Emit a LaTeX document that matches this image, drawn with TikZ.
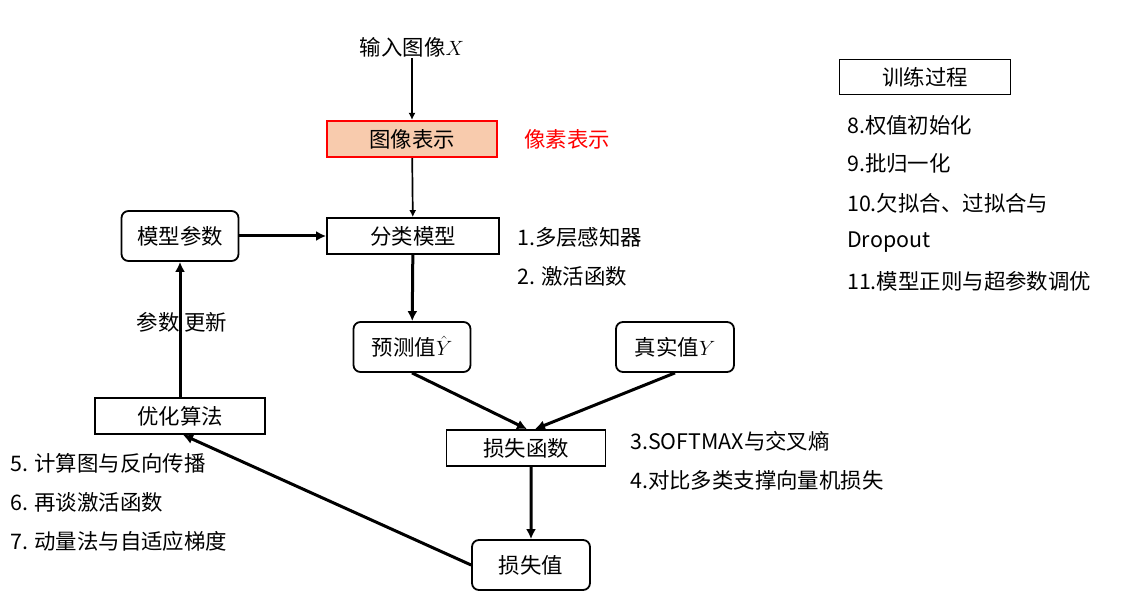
\documentclass[tikz,border=0pt]{standalone}
\usepackage{fontspec}
\setmainfont{Noto Sans CJK SC}
\usepackage{xcolor}
\definecolor{peach}{HTML}{F8CBAD}
\definecolor{hotred}{HTML}{FF0000}
\usetikzlibrary{arrows.meta}

\begin{document}
\begin{tikzpicture}[x=1bp,y=-1bp,>=Latex,every node/.style={font=\fontsize{21.5}{25}\selectfont}]
\tikzset{
  sqbox/.style={draw,line width=1.8bp,rectangle,inner sep=0pt},
  rdbox/.style={draw,line width=1.8bp,rectangle,rounded corners=7bp,inner sep=0pt},
  thin arrow/.style={->,line width=1.7bp,>={Latex[length=7bp,width=7bp]}},
  thick arrow/.style={->,line width=3bp,>={Latex[length=10bp,width=10bp]}},
  note/.style={anchor=west,inner sep=0pt}
}
\useasboundingbox (0,0) rectangle (1137,593);
% main chain
\node[inner sep=1pt] (input) at (412,47) {输入图像$X$};
\node[sqbox,draw=hotred,line width=2.2bp,fill=peach,minimum width=170bp,minimum height=36bp] (repr) at (412,139) {图像表示};
\node[text=hotred,inner sep=0pt] (pixel) at (567,139) {像素表示};
\node[sqbox,minimum width=172bp,minimum height=36bp] (cls) at (413,236) {分类模型};
\node[rdbox,minimum width=117bp,minimum height=50bp] (param) at (180,236) {模型参数};
\node[rdbox,minimum width=117bp,minimum height=50bp] (pred) at (412,347) {预测值$\hat{Y}$};
\node[rdbox,minimum width=118bp,minimum height=50bp] (truth) at (675,347) {真实值$Y$};
\node[sqbox,minimum width=159bp,minimum height=36bp] (lossfn) at (526,448) {损失函数};
\node[rdbox,minimum width=118bp,minimum height=50bp] (lossval) at (531,565) {损失值};
\node[sqbox,minimum width=170bp,minimum height=36bp] (optim) at (180,416) {优化算法};
\node[sqbox,minimum width=171bp,minimum height=35bp] (train) at (925,77) {训练过程};
% notes
\node[note] (n1) at (517,237) {1.多层感知器};
\node[note] (n2) at (517,276) {2. 激活函数};
\node[note] (n3) at (630,441) {3.SOFTMAX与交叉熵};
\node[note] (n4) at (630,480) {4.对比多类支撑向量机损失};
\node[note] (n5) at (10,463) {5. 计算图与反向传播};
\node[note] (n6) at (10,502) {6. 再谈激活函数};
\node[note] (n7) at (10,541) {7. 动量法与自适应梯度};
\node[note] (n8) at (847,125) {8.权值初始化};
\node[note] (n9) at (847,163) {9.批归一化};
\node[note] (n10) at (847,203) {10.欠拟合、过拟合与};
\node[note] (n10b) at (847,242) {Dropout};
\node[note] (n11) at (847,281) {11.模型正则与超参数调优};
\node[inner sep=0pt] (upd) at (182,322) {参数\ 更新};
% connectors
\draw[thin arrow] (input) -- (repr);
\draw[thin arrow] (repr) -- (cls);
\draw[thick arrow] (param) -- (cls);
\draw[thick arrow] (cls) -- (pred);
\draw[thick arrow] (pred.south) -- ([xshift=1bp]lossfn.north);
\draw[thick arrow] (truth.south) -- ([xshift=9bp]lossfn.north);
\draw[thick arrow] ([xshift=5bp]lossfn.south) -- (lossval);
\draw[thick arrow] (lossval.west) -- ([xshift=3bp]optim.south);
\draw[thick arrow] (optim) -- (param);
\end{tikzpicture}
\end{document}
